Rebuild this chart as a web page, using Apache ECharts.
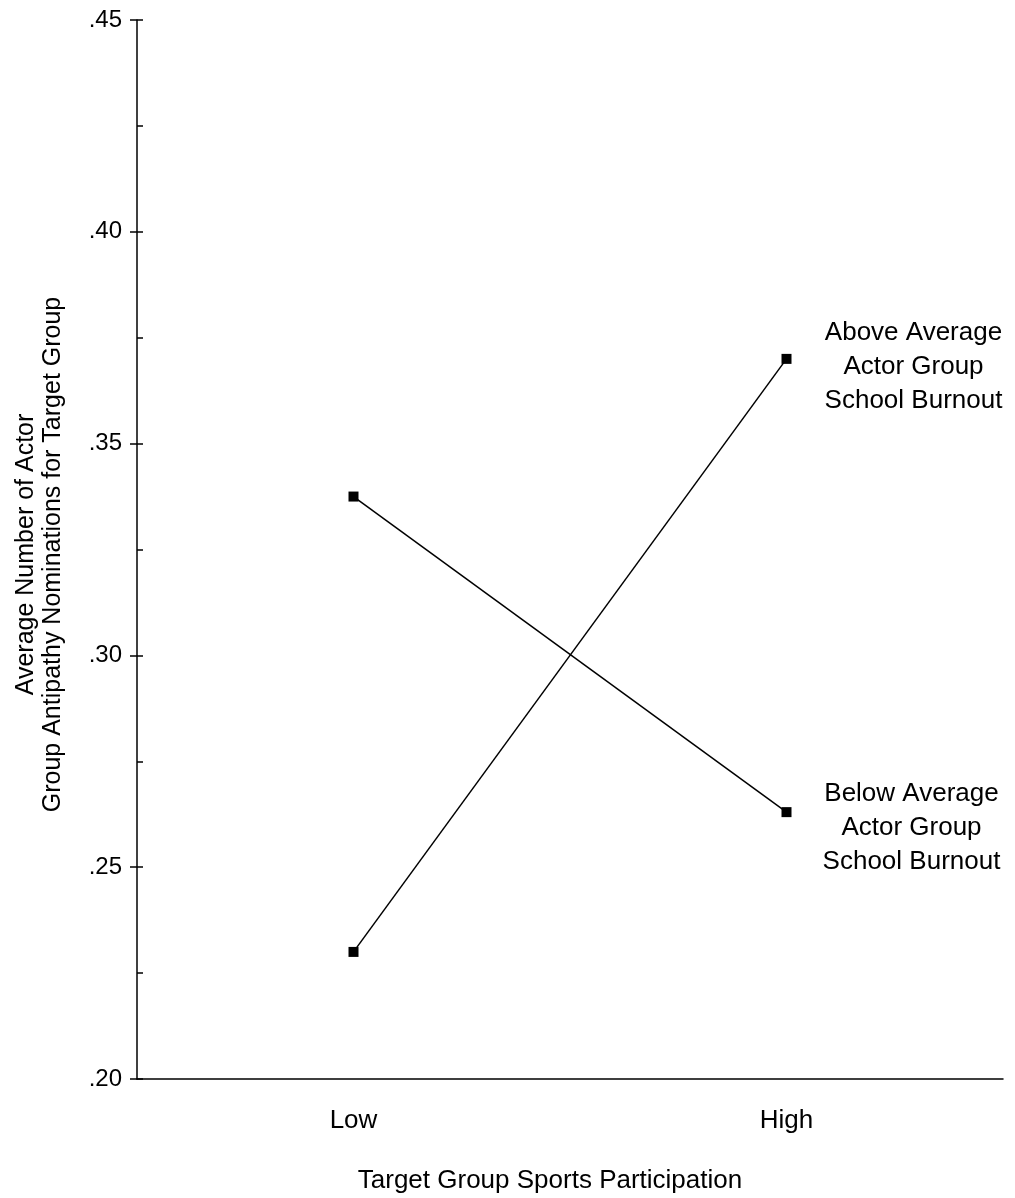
<!DOCTYPE html>
<html>
<head>
<meta charset="utf-8">
<script src="https://cdn.jsdelivr.net/npm/echarts@6/dist/echarts.min.js"></script>
<style>
html,body{margin:0;padding:0;background:#fff;}
#chart{width:1015px;height:1198px;}
</style>
</head>
<body>
<div id="chart"></div>
<script>
const categories = ['Low', 'High'];
const aboveAverage = [0.230, 0.370];
const belowAverage = [0.3375, 0.263];
const yMin = 0.20, yMax = 0.45, yMajor = 0.05, yMinor = 0.025;
const aboveLabel = 'Above Average\nActor Group\nSchool Burnout';
const belowLabel = 'Below Average\nActor Group\nSchool Burnout';
const xTitle = 'Target Group Sports Participation';
const yTitle = 'Average Number of Actor\nGroup Antipathy Nominations for Target Group';

const FONT = '"Liberation Sans", Arial, sans-serif';
const chart = echarts.init(document.getElementById('chart'));

function endLabel(text, offset) {
  return {
    show: true, formatter: text, position: 'inside', align: 'center', verticalAlign: 'middle',
    offset: offset, fontFamily: FONT, fontSize: 26, lineHeight: 34, color: '#000'
  };
}

const lineStyle = { color: '#000', width: 1.5 };
const itemStyle = { color: '#000' };

chart.setOption({
  animation: false,
  backgroundColor: '#fff',
  grid: { left: 137, right: 12, top: 20, bottom: 119, containLabel: false, outerBoundsMode: 'none' },
  xAxis: {
    type: 'category', data: categories, boundaryGap: true,
    axisLine: { lineStyle: { color: '#000', width: 1.5 } },
    axisTick: { show: false },
    axisLabel: { margin: 29, fontFamily: FONT, fontSize: 26, color: '#000' },
    name: xTitle, nameLocation: 'middle', nameGap: 89,
    nameTextStyle: { fontFamily: FONT, fontSize: 26, color: '#000', padding: [0, 40, 0, 0] }
  },
  yAxis: [{
    type: 'value', min: yMin, max: yMax, interval: yMajor,
    splitLine: { show: false },
    axisLine: { show: true, lineStyle: { color: '#000', width: 1.5 } },
    axisTick: { show: true, length: 7, lineStyle: { color: '#000', width: 1.5 } },
    axisLabel: { margin: 15, fontFamily: FONT, fontSize: 24, color: '#000',
      formatter: v => v.toFixed(2).replace(/^0/, '') },
    name: yTitle, nameLocation: 'middle', nameGap: 70, nameRotate: 90,
    nameTextStyle: { fontFamily: FONT, fontSize: 25, lineHeight: 27, color: '#000', align: 'center', padding: [0, 10, 0, 0] }
  }, {
    type: 'value', min: yMin, max: yMax, interval: yMinor, position: 'left',
    splitLine: { show: false },
    axisLine: { show: false },
    axisTick: { show: true, inside: true, length: 6, lineStyle: { color: '#000', width: 1.5 } },
    axisLabel: { show: false }
  }],
  series: [{
    type: 'line', name: 'Above', data: aboveAverage.map((v, i) => i === aboveAverage.length - 1 ? { value: v, label: endLabel(aboveLabel, [127, 8]) } : v),
    symbol: 'rect', symbolSize: 10, lineStyle: lineStyle, itemStyle: itemStyle,
    label: { show: false }
  }, {
    type: 'line', name: 'Below', data: belowAverage.map((v, i) => i === belowAverage.length - 1 ? { value: v, label: endLabel(belowLabel, [125, 16]) } : v),
    symbol: 'rect', symbolSize: 10, lineStyle: lineStyle, itemStyle: itemStyle,
    label: { show: false }
  }]
});
</script>
</body>
</html>
